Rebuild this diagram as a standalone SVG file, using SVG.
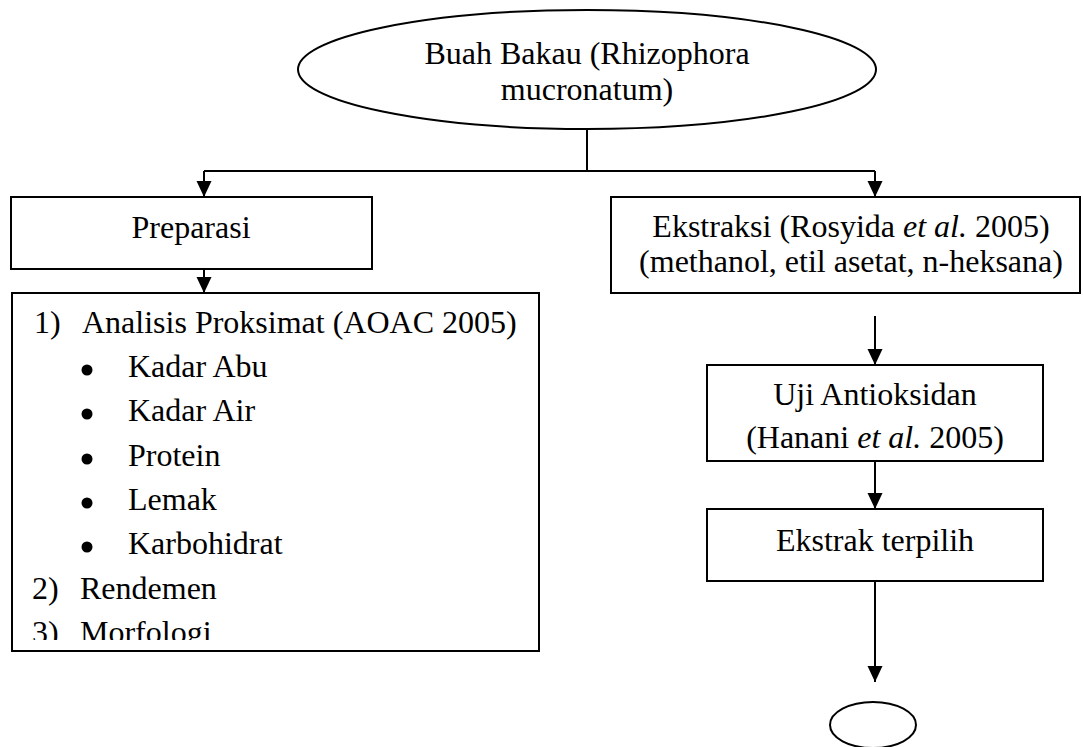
<svg xmlns="http://www.w3.org/2000/svg" width="1083" height="747" viewBox="0 0 1083 747">
<style>
.t{font-family:"Liberation Serif","Times New Roman",serif;font-size:32px;fill:#000}
.c{text-anchor:middle}
.s{fill:#fff;stroke:#000;stroke-width:2}
.l{fill:none;stroke:#000;stroke-width:2}
.i{font-style:italic}
.b{fill:#000}
</style>
<defs>
<marker id="ah" viewBox="0 0 16 16" refX="16" refY="8" markerWidth="16" markerHeight="16" markerUnits="userSpaceOnUse" orient="auto">
<path d="M0,0.5 L16,8 L0,15.5 z" fill="#000"/>
</marker>
<clipPath id="clipList"><rect x="12" y="293" width="527" height="347"/></clipPath>
</defs>
<rect width="1083" height="747" fill="#fff"/>
<g id="connectors">
<path class="l" d="M587,129 V171"/>
<path class="l" d="M204,171 H875"/>
<path class="l" d="M204,171 V197" marker-end="url(#ah)"/>
<path class="l" d="M875,171 V197" marker-end="url(#ah)"/>
<path class="l" d="M204,269 V293" marker-end="url(#ah)"/>
<path class="l" d="M875,316 V365" marker-end="url(#ah)"/>
<path class="l" d="M875,461 V509" marker-end="url(#ah)"/>
<path class="l" d="M875,581 V682" marker-end="url(#ah)"/>
</g>
<g id="buah">
<ellipse class="s" cx="587" cy="69.5" rx="289" ry="59.5"/>
<text class="t c" x="587" y="64">Buah Bakau (Rhizophora</text>
<text class="t c" x="587" y="100">mucronatum)</text>
</g>
<g id="preparasi">
<rect class="s" x="11" y="197" width="361" height="72"/>
<text class="t c" x="191" y="238">Preparasi</text>
</g>
<g id="analisis">
<rect class="s" x="12" y="293" width="527" height="358"/>
<g clip-path="url(#clipList)">
<text class="t" x="34" y="333">1)</text>
<text class="t" x="82" y="333">Analisis Proksimat (AOAC 2005)</text>
<circle class="b" cx="87" cy="370" r="5.5"/>
<text class="t" x="128" y="377">Kadar Abu</text>
<circle class="b" cx="87" cy="414" r="5.5"/>
<text class="t" x="128" y="421">Kadar Air</text>
<circle class="b" cx="87" cy="459" r="5.5"/>
<text class="t" x="128" y="466">Protein</text>
<circle class="b" cx="87" cy="503" r="5.5"/>
<text class="t" x="128" y="510">Lemak</text>
<circle class="b" cx="87" cy="547" r="5.5"/>
<text class="t" x="128" y="554">Karbohidrat</text>
<text class="t" x="32" y="599">2)</text>
<text class="t" x="80" y="599">Rendemen</text>
<text class="t" x="32" y="643">3)</text>
<text class="t" x="80" y="643">Morfologi</text>
</g>
</g>
<g id="ekstraksi">
<rect class="s" x="611" y="197" width="469" height="96"/>
<text class="t c" x="851" y="237">Ekstraksi (Rosyida <tspan class="i">et al.</tspan> 2005)</text>
<text class="t c" x="851" y="272">(methanol, etil asetat, n-heksana)</text>
</g>
<g id="uji">
<rect class="s" x="707" y="365" width="336" height="96"/>
<text class="t c" x="875" y="405">Uji Antioksidan</text>
<text class="t c" x="875" y="448">(Hanani <tspan class="i">et al.</tspan> 2005)</text>
</g>
<g id="ekstrak">
<rect class="s" x="707" y="509" width="336" height="72"/>
<text class="t c" x="875" y="551">Ekstrak terpilih</text>
</g>
<g id="end">
<ellipse class="s" cx="873" cy="725" rx="43" ry="23"/>
</g>
</svg>
